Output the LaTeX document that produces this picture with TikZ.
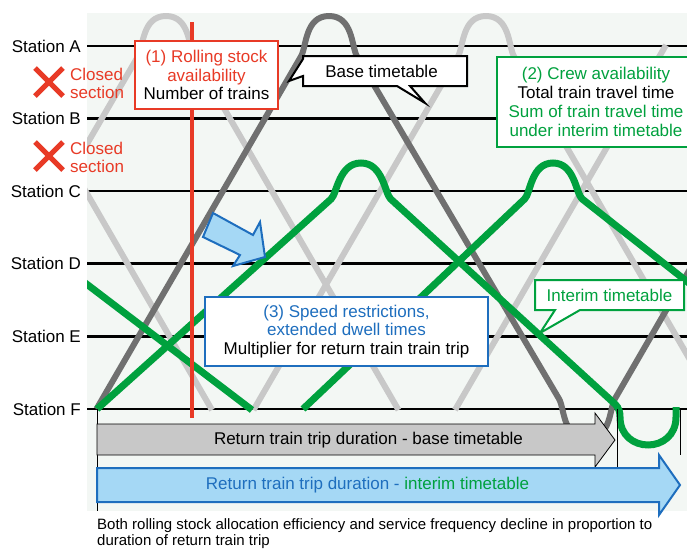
\documentclass[tikz,border=0pt]{standalone}
\usepackage{fontspec}
\setmainfont{Liberation Sans}
\definecolor{bgc}{RGB}{243,247,244}
\definecolor{lgrey}{RGB}{200,200,200}
\definecolor{dgrey}{RGB}{112,112,112}
\definecolor{tgreen}{RGB}{0,161,62}
\definecolor{tred}{RGB}{232,58,38}
\definecolor{tblue}{RGB}{30,110,190}
\definecolor{lblue}{RGB}{165,216,245}
\begin{document}
\begin{tikzpicture}[x=1pt,y=-1pt,
  lg/.style={line width=6pt, draw=lgrey},
  dg/.style={line width=6pt, draw=dgrey},
  gr/.style={line width=7pt, draw=tgreen},
  stationline/.style={line width=2.5pt, black},
  txt/.style={font=\fontsize{17}{18.5}\selectfont, inner sep=0pt},
  boxtxt/.style={font=\fontsize{17}{18.5}\selectfont, align=center, line width=2pt, fill=white, inner sep=0pt},
  captxt/.style={font=\fontsize{15}{18}\selectfont, inner sep=0pt, anchor=base west},
  xmark/.style={line width=5pt, draw=tred}]
\useasboundingbox (0,0) rectangle (687,550);
\fill[white] (0,0) rectangle (687,550);
\fill[bgc] (87,13) rectangle (687,511);

% station lines and labels
\foreach \n/\y in {A/46,B/118.5,C/191,D/263.5,E/336.5,F/409}{
  \coordinate (L\n) at (87,\y);
  \coordinate (R\n) at (687,\y);
  \draw[stationline] (L\n) -- (R\n);
  \node[txt, anchor=east] (S\n) at (81,\y) {Station \n};
}

\begin{scope}
\clip (87,13) rectangle (687,511);
% light grey base trains
\draw[lg] (80,156) -- (138.2,56) .. controls (143.4,47) and (142,16) .. (166,16)
  .. controls (190,16) and (188.6,47) .. (193.8,56) -- (398.5,410);
\draw[lg] (80,181.4) -- (212,410);
\draw[lg] (253.5,410) -- (458.2,56) .. controls (463.4,47) and (462,16) .. (486,16)
  .. controls (510,16) and (508.6,47) .. (513.8,56) -- (690,359.8);
\draw[lg] (455,410) -- (666,45);
% dark grey base train
\draw[dg] (96.5,409) -- (301.2,56) .. controls (306.4,47) and (305,16) .. (329,16)
  .. controls (353,16) and (351.6,47) .. (356.8,56) -- (559.1,399)
  .. controls (564.4,408) and (563,439) .. (587,439)
  .. controls (611,439) and (609.6,408) .. (614.8,399) -- (690,269);
% green interim trains
\draw[gr] (80,279) -- (252,410);
\draw[gr] (97,409) -- (331.1,199) .. controls (337,193.6) and (339,163) .. (361,163)
  .. controls (383,163) and (384.8,193.6) .. (390.7,199) -- (615,404)
  .. controls (619,408) and (620,412) .. (620,417)
  .. controls (620,454.3) and (676,454.3) .. (676,417) -- (676,407);
\draw[gr] (303,409) -- (524.6,199) .. controls (530.4,194) and (531,163) .. (553,163)
  .. controls (575,163) and (575.9,194) .. (582.2,199) -- (690,283.9);
\end{scope}

% closed sections
\draw[xmark] (35,68) -- (63,96) (63,68) -- (35,96);
\node[txt, anchor=west, align=left, text=tred] (cs1) at (70,83.5) {Closed\\section};
\draw[xmark] (35,142) -- (63,170) (63,142) -- (35,170);
\node[txt, anchor=west, align=left, text=tred] (cs2) at (70,157.5) {Closed\\section};

% red line
\coordinate (rtop) at (192,22);
\coordinate (rbot) at (192,418);
\draw[line width=4pt, tred] (rtop) -- (rbot);

% blue block arrow
\draw[line width=2pt, draw=tblue, fill=lblue, line join=miter]
  (213,213) -- (253,235) -- (260,222) -- (265,257) -- (233,266) -- (240,255) -- (203,237) -- cycle;

% callout (1)
\node[boxtxt, draw=tred, minimum width=143pt, minimum height=68pt] (box1) at (206.5,75)
  {\textcolor{tred}{(1) Rolling stock}\\\textcolor{tred}{availability}\\Number of trains};

% base timetable callout
\draw[line width=2pt, fill=white, line join=miter] (303,56) -- (467,56) -- (467,86) -- (410,86) -- (425,103)
  -- (397,86) -- (303,86) -- (303,76) -- (289,81) -- (303,59) -- cycle;
\node[txt] (base) at (381.5,71) {Base timetable};

% callout (2)
\node[boxtxt, draw=tgreen, minimum width=198pt, minimum height=90pt,
  font=\fontsize{17}{19}\selectfont] (box2) at (596,102)
  {\textcolor{tgreen}{(2) Crew availability}\\Total train travel time\\
   \textcolor{tgreen}{Sum of train travel time}\\\textcolor{tgreen}{under interim timetable}};

% callout (3)
\node[boxtxt, draw=tblue, minimum width=283pt, minimum height=69pt] (box3) at (346.5,331.5)
  {\textcolor{tblue}{(3) Speed restrictions,}\\\textcolor{tblue}{extended dwell times}\\Multiplier for return train train trip};

% interim timetable callout
\draw[line width=2pt, draw=tgreen, fill=white, line join=miter] (535,280) -- (684,280) -- (684,310) -- (580,310)
  -- (540,333) -- (555,310) -- (535,310) -- cycle;
\node[txt, text=tgreen] (interim) at (609.5,295) {Interim timetable};

% bottom arrows
\draw[line width=1pt] (97,409) -- (97,511);
\draw[line width=1pt] (617,409) -- (617,467);
\draw[line width=1pt] (680,409) -- (680,455);
\draw[line width=0.8pt, fill=lgrey, line join=miter] (97,424) -- (595,424) -- (595,413) -- (615,440)
  -- (595,467) -- (595,455) -- (97,455) -- cycle;
\node[txt] (gtext) at (368.5,440) {Return train trip duration - base timetable};
\draw[line width=2pt, draw=tblue, fill=lblue, line join=miter] (97,468) -- (659,468) -- (659,455) -- (680,485)
  -- (659,515) -- (659,502) -- (97,502) -- cycle;
\node[txt] (btext) at (367.5,485) {\textcolor{tblue}{Return train trip duration - }\textcolor{tgreen}{interim timetable}};

% caption
\node[captxt] (cap1) at (97,529) {Both rolling stock allocation efficiency and service frequency decline in proportion to};
\node[captxt] (cap2) at (97,545.5) {duration of return train trip};
\end{tikzpicture}
\end{document}
